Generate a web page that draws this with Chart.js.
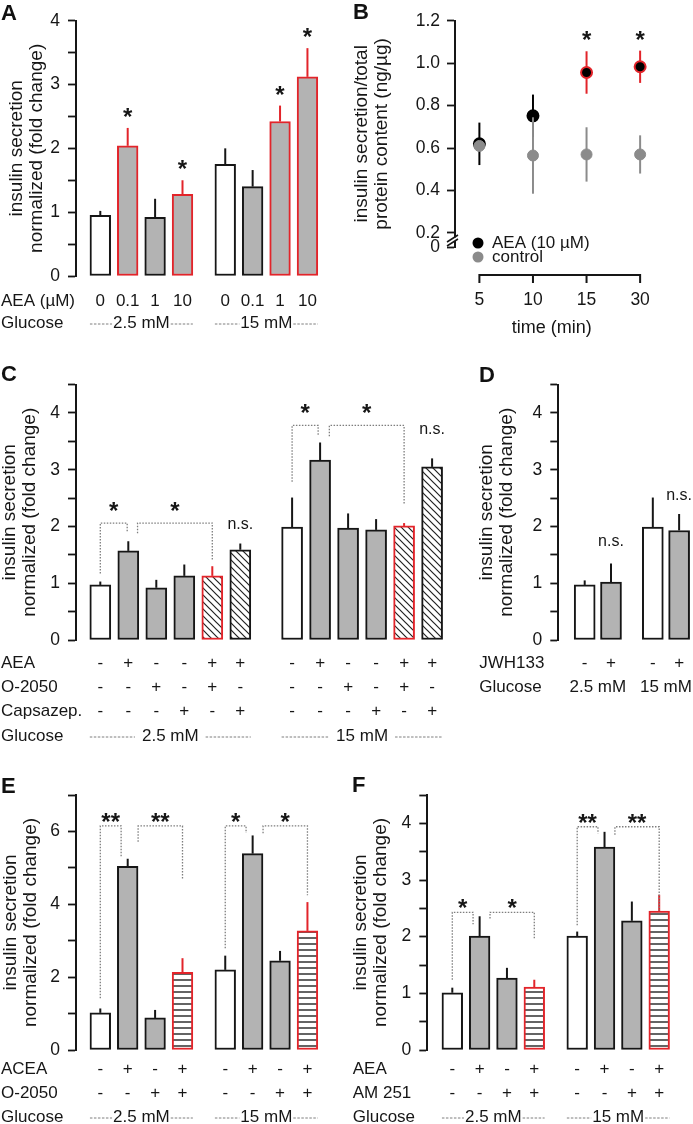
<!DOCTYPE html>
<html>
<head>
<meta charset="utf-8">
<title>Insulin secretion and anandamide</title>
<script src="https://cdn.jsdelivr.net/npm/chart.js@4.4.1/dist/chart.umd.min.js"></script>
<style>
  html, body { margin: 0; padding: 0; background: #fff; }
  #fig { position: relative; width: 693px; height: 1124px; overflow: hidden; }
  #fig canvas { position: absolute; }
  .tag { position: absolute; z-index: 2; font: bold 22px/22px "Liberation Sans", Arial, sans-serif; color: #111; }
</style>
</head>
<body>
<div id="fig">
  <div class="tag" style="left:1px;top:2px">A</div>
  <div class="tag" style="left:353px;top:1px">B</div>
  <div class="tag" style="left:1px;top:363px">C</div>
  <div class="tag" style="left:479px;top:364px">D</div>
  <div class="tag" style="left:1px;top:775px">E</div>
  <div class="tag" style="left:352px;top:774px">F</div>
</div>
<script>
// ---- data ----
var glucoseLevels = ['2.5 mM', '15 mM'];
var yTitle = ['insulin secretion', 'normalized (fold change)'];

// A: AEA dose response
var doseLabels = ['0', '0.1', '1', '10', '0', '0.1', '1', '10'];
var doseMean = [0.95, 2.04, 0.92, 1.28, 1.75, 1.40, 2.42, 3.12];
var doseSem = [0.07, 0.28, 0.29, 0.22, 0.25, 0.26, 0.25, 0.45];
var doseSig = ['', '*', '', '*', '', '', '*', '*'];

// B: time course
var timeLabels = ['5', '10', '15', '30'];
var timeAeaMean = [0.62, 0.752, 0.956, 0.983];
var timeAeaSem = [0.10, 0.10, 0.10, 0.076];
var timeCtrlMean = [0.61, 0.565, 0.57, 0.57];
var timeCtrlSem = [0.02, 0.18, 0.128, 0.09];
var timeSig = ['', '', '*', '*'];
var timeTicks = [0.2, 0.4, 0.6, 0.8, 1.0, 1.2];

// C: O-2050 / capsazepine
var cAea = ['-', '+', '-', '-', '+', '+', '-', '+', '-', '-', '+', '+'];
var cO2050 = ['-', '-', '+', '-', '+', '-', '-', '-', '+', '-', '+', '-'];
var cCapsazepine = ['-', '-', '-', '+', '-', '+', '-', '-', '-', '+', '-', '+'];
var cMean = [0.97, 1.57, 0.92, 1.13, 1.13, 1.59, 1.99, 3.17, 1.97, 1.94, 2.01, 3.05];
var cSem = [0.06, 0.17, 0.14, 0.20, 0.17, 0.11, 0.52, 0.31, 0.26, 0.19, 0.05, 0.15];
// [from bar, to bar, foot at from, foot at to, top, label]
var cBrackets = [[0, 0.96, 1.17, 1.89, 2.06, '*'], [1.33, 4, 1.88, 1.42, 2.06, '*'],
                 [6, 6.93, 2.79, 3.59, 3.78, '*'], [7.33, 10, 3.59, 2.38, 3.78, '*']];
var cNotSig = [[5, 2.04], [11, 3.71]];

// D: JWH133
var dJwh = ['-', '+', '-', '+'];
var dMean = [0.97, 1.02, 1.99, 1.93];
var dSem = [0.08, 0.33, 0.52, 0.29];
var dNotSig = [[1, 1.73], [3, 2.55]];

// E: ACEA / O-2050
var eAcea = ['-', '+', '-', '+', '-', '+', '-', '+'];
var eO2050 = ['-', '-', '+', '+', '-', '-', '+', '+'];
var eMean = [1.02, 5.04, 0.88, 2.13, 2.20, 5.39, 2.45, 3.27];
var eSem = [0.12, 0.21, 0.22, 0.39, 0.39, 0.50, 0.27, 0.79];
var eBrackets = [[0, 0.76, 1.42, 5.30, 6.15, '**'], [1.38, 3, 5.72, 4.71, 6.15, '**'],
                 [4, 4.76, 2.79, 5.96, 6.15, '*'], [5.38, 7, 5.95, 4.25, 6.15, '*']];

// F: AEA / AM 251
var fAea = ['-', '+', '-', '+', '-', '+', '-', '+'];
var fAm251 = ['-', '-', '+', '+', '-', '-', '+', '+'];
var fMean = [1.01, 2.01, 1.27, 1.11, 2.01, 3.58, 2.28, 2.45];
var fSem = [0.09, 0.35, 0.18, 0.13, 0.08, 0.27, 0.34, 0.29];
var fBrackets = [[0, 0.76, 1.24, 2.22, 2.43, '*'], [1.38, 3, 2.32, 1.96, 2.43, '*'],
                 [4, 4.76, 2.20, 3.82, 3.94, '**'], [5.38, 7, 3.80, 2.46, 3.94, '**']];

// ---- look ----
var INK = '#161616';
var RED = '#e2242a';
var GREY = '#b3b3b3';
var CTRL = '#8b8b8b';
var DOTS = '#7e7e7e';
var FONT = '"Liberation Sans", Arial, Helvetica, sans-serif';

Chart.defaults.font.family = FONT;
Chart.defaults.color = INK;
Chart.defaults.animation = false;

function addCanvas(box) {
  var cv = document.createElement('canvas');
  cv.width = box[2];
  cv.height = box[3];
  cv.style.left = box[0] + 'px';
  cv.style.top = box[1] + 'px';
  cv.style.width = box[2] + 'px';
  cv.style.height = box[3] + 'px';
  document.getElementById('fig').appendChild(cv);
  return cv;
}

function hatch(ctx, kind) {
  var s = kind === 'd' ? 7 : 6;
  var c = document.createElement('canvas');
  c.width = s;
  c.height = s;
  var g = c.getContext('2d');
  g.fillStyle = '#fff';
  g.fillRect(0, 0, s, s);
  g.strokeStyle = '#222';
  g.lineWidth = kind === 'd' ? 1.2 : 1.4;
  g.beginPath();
  if (kind === 'd') {
    g.moveTo(-1, -1); g.lineTo(s + 1, s + 1);
    g.moveTo(-1, s - 1); g.lineTo(1, s + 1);
    g.moveTo(s - 1, -1); g.lineTo(s + 1, 1);
  } else {
    g.moveTo(0, s / 2); g.lineTo(s, s / 2);
  }
  g.stroke();
  return ctx.createPattern(c, 'repeat');
}

function dotted(c, pts, w, dash) {
  c.save();
  c.strokeStyle = DOTS;
  c.lineWidth = w;
  c.setLineDash(dash || [1.5, 1.5]);
  c.beginPath();
  pts.forEach(function (p, i) {
    if (i) c.lineTo(p[0], p[1]); else c.moveTo(p[0], p[1]);
  });
  c.stroke();
  c.restore();
}

function star(c, txt, x, cy) {
  c.save();
  c.font = 'bold 24px ' + FONT;
  c.textAlign = 'center';
  c.textBaseline = 'alphabetic';
  c.fillStyle = INK;
  c.fillText(txt, x, cy + 13);
  c.restore();
}

function yAxis(areaLeft, max, step, every, titleX) {
  return {
    min: 0,
    max: max,
    afterFit: function (s) { s.width = areaLeft; },
    border: { display: true, color: INK, width: 2 },
    grid: { drawOnChartArea: false, drawTicks: true, tickLength: 8, tickWidth: 1.8, tickColor: INK },
    ticks: {
      stepSize: step, autoSkip: false, padding: 8, color: INK, font: { size: 17.5 },
      callback: function (v) { return Math.abs(v % every) < 1e-6 ? String(v) : ''; }
    },
    title: {
      display: true, text: yTitle, color: INK,
      font: { size: 19, lineHeight: 20 / 19 },
      padding: { top: titleX - 10, bottom: 0 }
    }
  };
}

// bar panels (A, C, D, E, F)
function barPanel(p) {
  var L = p.box[0], T = p.box[1], W = p.box[2], H = p.box[3];
  var cv = addCanvas(p.box);
  var ctx = cv.getContext('2d');
  var area = { left: p.area[0] - L, top: p.area[1] - T, right: p.area[2] - L, bottom: p.area[3] - T };
  var n = p.mean.length / 2;
  function slot(v) { return v + (Math.floor(v + 1e-6) >= n ? p.gap : 0); }
  var xmin = (p.area[0] - p.first) / p.pitch;
  var xmax = xmin + (p.area[2] - p.area[0]) / p.pitch;
  var edges = p.edges.map(function (k) { return k === 'r' ? RED : INK; });
  var fills = p.fills.map(function (k) {
    if (k === 'g') return GREY;
    if (k === 'd' || k === 'h') return hatch(ctx, k);
    return '#fff';
  });

  var decor = {
    id: 'decor',
    afterDatasetsDraw: function (chart) {
      var c = chart.ctx, ys = chart.scales.y;
      chart.getDatasetMeta(0).data.forEach(function (bar, i) {
        c.save();
        c.strokeStyle = edges[i];
        c.lineWidth = 2;
        c.beginPath();
        c.moveTo(bar.x, bar.y);
        c.lineTo(bar.x, ys.getPixelForValue(p.mean[i] + p.sem[i]));
        c.stroke();
        c.restore();
      });
    },
    afterDraw: function (chart) {
      var c = chart.ctx, xs = chart.scales.x, ys = chart.scales.y;
      var bars = chart.getDatasetMeta(0).data;
      c.save();
      c.fillStyle = INK;
      c.textBaseline = 'middle';
      c.font = '17px ' + FONT;

      // treatment rows
      p.rows.forEach(function (r) {
        var y = r[1] - T;
        c.textAlign = 'left';
        c.fillText(r[0], p.labelX - L, y);
        c.textAlign = 'center';
        r[2].forEach(function (s, i) { c.fillText(s, bars[i].x, y); });
      });

      // glucose row
      var gy = p.glucoseY - T;
      c.textAlign = 'left';
      c.fillText('Glucose', p.labelX - L, gy);
      c.textAlign = 'center';
      glucoseLevels.forEach(function (txt, g) {
        var a = bars[g * n], b = bars[g * n + n - 1];
        var cx = (a.x + b.x) / 2;
        c.fillText(txt, cx, gy);
        if (p.dashGap !== null) {
          var hw = c.measureText(txt).width / 2;
          dotted(c, [[a.x - a.width / 2, gy + 1], [cx - hw - p.dashGap, gy + 1]], 1, [2.5, 1.5]);
          dotted(c, [[cx + hw + p.dashGap, gy + 1], [b.x + b.width / 2, gy + 1]], 1, [2.5, 1.5]);
        }
      });

      // significance brackets
      (p.brackets || []).forEach(function (b) {
        var x0 = xs.getPixelForValue(slot(b[0]));
        var x1 = xs.getPixelForValue(slot(b[1]));
        var yt = ys.getPixelForValue(b[4]);
        dotted(c, [[x0, ys.getPixelForValue(b[2])], [x0, yt], [x1, yt], [x1, ys.getPixelForValue(b[3])]], 1.3);
        star(c, b[5], (x0 + x1) / 2, yt - p.starLift);
      });

      // stars over single bars
      (p.sig || []).forEach(function (s, i) {
        if (s) star(c, s, bars[i].x, ys.getPixelForValue(p.mean[i] + p.sem[i]) - 16);
      });

      // not significant
      c.font = '16px ' + FONT;
      c.textAlign = 'center';
      (p.ns || []).forEach(function (q) {
        c.fillText('n.s.', bars[q[0]].x, ys.getPixelForValue(q[1]));
      });
      c.restore();
    }
  };

  new Chart(ctx, {
    type: 'bar',
    data: {
      datasets: [{
        data: p.mean.map(function (v, i) { return { x: slot(i), y: v }; }),
        backgroundColor: fills,
        borderColor: edges,
        borderWidth: 2,
        borderSkipped: false,
        barThickness: p.barW
      }]
    },
    options: {
      responsive: false,
      devicePixelRatio: 1,
      events: [],
      layout: { padding: { left: 0, top: area.top, right: W - area.right, bottom: H - area.bottom } },
      plugins: { legend: { display: false }, tooltip: { enabled: false } },
      scales: {
        x: { type: 'linear', display: false, offset: false, min: xmin, max: xmax },
        y: yAxis(area.left, p.yMax, p.yStep, p.every, p.titleX - L)
      }
    },
    plugins: [decor]
  });
}

// B: time course with a broken y axis
function timePanel() {
  var box = [340, 0, 353, 340];
  var cv = addCanvas(box);
  var ctx = cv.getContext('2d');
  var area = { left: 115, top: 20.7, right: 345, bottom: 247 };
  var first = 144, pitch = 63.7;
  var xmin = (area.left - first) / pitch;
  var xmax = xmin + (area.right - area.left) / pitch;
  var zeroAt = 0.134;

  var decor = {
    id: 'timeDecor',
    beforeDatasetDraw: function (chart, args) {
      var ds = chart.data.datasets[args.index], ys = chart.scales.y, c = chart.ctx;
      args.meta.data.forEach(function (pt, i) {
        var m = ds.data[i].y, e = ds.sem[i];
        c.save();
        c.strokeStyle = ds.errColor[i];
        c.lineWidth = 2;
        c.beginPath();
        c.moveTo(pt.x, ys.getPixelForValue(m - e));
        c.lineTo(pt.x, ys.getPixelForValue(m + e));
        c.stroke();
        c.restore();
      });
    },
    afterDraw: function (chart) {
      var c = chart.ctx, xs = chart.scales.x, ys = chart.scales.y;
      var a = chart.chartArea;
      c.save();
      // detached time axis
      var ay = a.bottom + 28;
      c.strokeStyle = INK;
      c.lineWidth = 2;
      c.beginPath();
      c.moveTo(xs.getPixelForValue(0), ay);
      c.lineTo(xs.getPixelForValue(timeLabels.length - 1), ay);
      timeLabels.forEach(function (t, i) {
        var x = xs.getPixelForValue(i);
        c.moveTo(x, ay - 1);
        c.lineTo(x, ay + 8);
      });
      c.stroke();
      // axis break
      c.fillStyle = '#fff';
      c.fillRect(a.left - 3, 237.5, 6, 3.5);
      c.lineWidth = 1.5;
      c.beginPath();
      c.moveTo(a.left - 8, 242); c.lineTo(a.left + 3, 235);
      c.moveTo(a.left - 8, 246); c.lineTo(a.left + 3, 239);
      c.stroke();
      // significance
      timeSig.forEach(function (s, i) {
        if (s) star(c, s, xs.getPixelForValue(i), ys.getPixelForValue(timeAeaMean[i] + timeAeaSem[i]) - 16);
      });
      // legend
      var lx = a.left + 23;
      [['AEA (10 µM)', '#000', a.bottom - 4], ['control', CTRL, a.bottom + 10]].forEach(function (it) {
        c.fillStyle = it[1];
        c.beginPath();
        c.arc(lx, it[2], 5.5, 0, Math.PI * 2);
        c.fill();
        c.fillStyle = INK;
        c.font = '17px ' + FONT;
        c.textAlign = 'left';
        c.textBaseline = 'middle';
        c.fillText(it[0], lx + 14, it[2]);
      });
      c.restore();
    }
  };

  new Chart(ctx, {
    type: 'line',
    data: {
      datasets: [{
        label: 'AEA (10 µM)',
        data: timeAeaMean.map(function (v, i) { return { x: i, y: v }; }),
        sem: timeAeaSem,
        errColor: timeSig.map(function (s) { return s ? RED : '#000'; }),
        showLine: false,
        pointRadius: 5.5,
        pointBackgroundColor: '#000',
        pointBorderColor: timeSig.map(function (s) { return s ? RED : '#000'; }),
        pointBorderWidth: 2,
        order: 1
      }, {
        label: 'control',
        data: timeCtrlMean.map(function (v, i) { return { x: i, y: v }; }),
        sem: timeCtrlSem,
        errColor: timeCtrlMean.map(function () { return CTRL; }),
        showLine: false,
        pointRadius: 5.5,
        pointBackgroundColor: CTRL,
        pointBorderColor: CTRL,
        pointBorderWidth: 1,
        order: 0
      }]
    },
    options: {
      responsive: false,
      devicePixelRatio: 1,
      events: [],
      layout: { padding: { left: 0, top: area.top, right: box[2] - area.right, bottom: 0 } },
      plugins: { legend: { display: false }, tooltip: { enabled: false } },
      scales: {
        x: {
          type: 'linear', min: xmin, max: xmax, offset: false,
          afterFit: function (s) { s.height = box[3] - area.bottom; },
          afterBuildTicks: function (s) { s.ticks = timeLabels.map(function (t, i) { return { value: i }; }); },
          grid: { display: false, drawTicks: false },
          border: { display: false },
          ticks: { autoSkip: false, maxRotation: 0, padding: 42.8, color: INK, font: { size: 17.5 },
            callback: function (v) { return timeLabels[v]; } },
          title: { display: true, text: 'time (min)', color: INK, font: { size: 18 }, padding: { top: 0, bottom: 1.2 } }
        },
        y: {
          min: zeroAt, max: 1.2,
          afterFit: function (s) { s.width = area.left; },
          afterBuildTicks: function (s) { s.ticks = [zeroAt].concat(timeTicks).map(function (v) { return { value: v }; }); },
          border: { display: true, color: INK, width: 2 },
          grid: { drawOnChartArea: false, drawTicks: true, tickLength: 8, tickWidth: 1.8, tickColor: INK },
          ticks: { autoSkip: false, padding: 7, color: INK, font: { size: 17.5 },
            callback: function (v) { return v === zeroAt ? '0' : v.toFixed(1); } },
          title: {
            display: true, text: ['insulin secretion/total', 'protein content (ng/µg)'], color: INK,
            font: { size: 19, lineHeight: 20 / 19 }, padding: { top: 12, bottom: 0 }
          }
        }
      }
    },
    plugins: [decor]
  });
}

barPanel({
  box: [0, 0, 340, 335], area: [76, 20.7, 330, 276],
  first: 100.3, pitch: 27.4, gap: 0.56, barW: 20.7,
  yMax: 4, yStep: 0.5, every: 1, titleX: 16.5,
  mean: doseMean, sem: doseSem, sig: doseSig,
  fills: ['w', 'g', 'g', 'g', 'w', 'g', 'g', 'g'],
  edges: ['k', 'r', 'k', 'r', 'k', 'k', 'r', 'r'],
  labelX: 1, rows: [['AEA (µM)', 301, doseLabels]], glucoseY: 323, dashGap: 1
});

timePanel();

barPanel({
  box: [0, 350, 460, 400], area: [76, 384.6, 450, 640],
  first: 100.3, pitch: 28, gap: 0.85, barW: 21,
  yMax: 4.5, yStep: 0.5, every: 1, titleX: 9.5,
  mean: cMean, sem: cSem, brackets: cBrackets, starLift: 17, ns: cNotSig,
  fills: ['w', 'g', 'g', 'g', 'd', 'd', 'w', 'g', 'g', 'g', 'd', 'd'],
  edges: ['k', 'k', 'k', 'k', 'r', 'k', 'k', 'k', 'k', 'k', 'r', 'k'],
  labelX: 1, rows: [['AEA', 663, cAea], ['O-2050', 687, cO2050], ['Capsazep.', 711, cCapsazepine]],
  glucoseY: 736, dashGap: 7
});

barPanel({
  box: [460, 350, 233, 350], area: [558.3, 384.6, 692, 640],
  first: 584.7, pitch: 26.3, gap: 0.59, barW: 21,
  yMax: 4.5, yStep: 0.5, every: 1, titleX: 487,
  mean: dMean, sem: dSem, ns: dNotSig,
  fills: ['w', 'g', 'w', 'g'],
  edges: ['k', 'k', 'k', 'k'],
  labelX: 479.3, rows: [['JWH133', 663, dJwh]], glucoseY: 687, dashGap: null
});

barPanel({
  box: [0, 755, 340, 369], area: [76, 795, 330, 1050],
  first: 100.3, pitch: 27.4, gap: 0.56, barW: 20.7,
  yMax: 7, yStep: 1, every: 2, titleX: 11,
  mean: eMean, sem: eSem, brackets: eBrackets, starLift: 9,
  fills: ['w', 'g', 'g', 'h', 'w', 'g', 'g', 'h'],
  edges: ['k', 'k', 'k', 'r', 'k', 'k', 'k', 'r'],
  labelX: 1, rows: [['ACEA', 1069, eAcea], ['O-2050', 1093, eO2050]], glucoseY: 1117, dashGap: 1
});

barPanel({
  box: [340, 755, 353, 369], area: [427.3, 795, 685, 1050],
  first: 452.3, pitch: 27.33, gap: 0.57, barW: 20.7,
  yMax: 4.5, yStep: 0.5, every: 1, titleX: 361,
  mean: fMean, sem: fSem, brackets: fBrackets, starLift: 9,
  fills: ['w', 'g', 'g', 'h', 'w', 'g', 'g', 'h'],
  edges: ['k', 'k', 'k', 'r', 'k', 'k', 'k', 'r'],
  labelX: 352.7, rows: [['AEA', 1069, fAea], ['AM 251', 1093, fAm251]], glucoseY: 1117, dashGap: 1
});
</script>
</body>
</html>
